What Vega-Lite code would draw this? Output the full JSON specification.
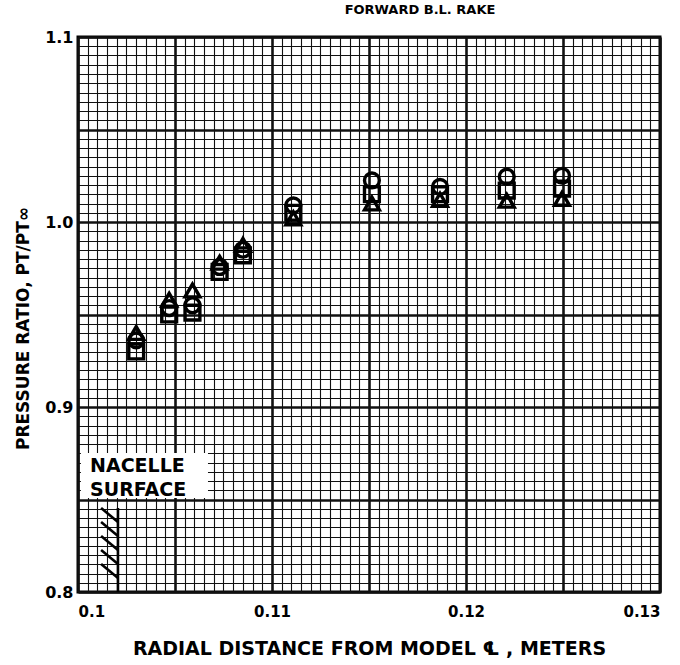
{
  "$schema": "https://vega.github.io/schema/vega-lite/v6.json",
  "width": 582,
  "height": 555,
  "autosize": "none",
  "padding": {"left": 78, "top": 37, "right": 20, "bottom": 73},
  "background": "white",
  "config": {
    "view": {"stroke": "black", "strokeWidth": 3},
    "font": "DejaVu Sans"
  },
  "title": {"text": "FORWARD B.L. RAKE", "fontSize": 13, "font": "DejaVu Sans", "fontWeight": "bold", "anchor": "middle", "dx": 51, "offset": 12, "color": "black"},
  "datasets": {
    "points": [
      {"x": 0.103, "y": 0.940, "shape": "triangle"},
      {"x": 0.103, "y": 0.936, "shape": "circle"},
      {"x": 0.103, "y": 0.930, "shape": "square"},
      {"x": 0.1047, "y": 0.958, "shape": "triangle"},
      {"x": 0.1047, "y": 0.9535, "shape": "circle"},
      {"x": 0.1047, "y": 0.950, "shape": "square"},
      {"x": 0.1059, "y": 0.963, "shape": "triangle"},
      {"x": 0.1059, "y": 0.955, "shape": "circle"},
      {"x": 0.1059, "y": 0.951, "shape": "square"},
      {"x": 0.1073, "y": 0.978, "shape": "triangle"},
      {"x": 0.1073, "y": 0.9757, "shape": "circle"},
      {"x": 0.1073, "y": 0.973, "shape": "square"},
      {"x": 0.1085, "y": 0.9876, "shape": "triangle"},
      {"x": 0.1085, "y": 0.985, "shape": "circle"},
      {"x": 0.1085, "y": 0.982, "shape": "square"},
      {"x": 0.1111, "y": 1.002, "shape": "triangle"},
      {"x": 0.1111, "y": 1.009, "shape": "circle"},
      {"x": 0.1111, "y": 1.005, "shape": "square"},
      {"x": 0.11515, "y": 1.010, "shape": "triangle"},
      {"x": 0.11515, "y": 1.0225, "shape": "circle"},
      {"x": 0.11515, "y": 1.015, "shape": "square"},
      {"x": 0.11866, "y": 1.012, "shape": "triangle"},
      {"x": 0.11866, "y": 1.019, "shape": "circle"},
      {"x": 0.11866, "y": 1.015, "shape": "square"},
      {"x": 0.1221, "y": 1.0115, "shape": "triangle"},
      {"x": 0.1221, "y": 1.0245, "shape": "circle"},
      {"x": 0.1221, "y": 1.017, "shape": "square"},
      {"x": 0.12495, "y": 1.0125, "shape": "triangle"},
      {"x": 0.12495, "y": 1.025, "shape": "circle"},
      {"x": 0.12495, "y": 1.018, "shape": "square"}
    ],
    "surface": [
      {"x": 0.10206, "y": 0.8, "x2": 0.10206, "y2": 0.8454},
      {"x": 0.10119, "y": 0.8454, "x2": 0.10206, "y2": 0.8378},
      {"x": 0.10119, "y": 0.8378, "x2": 0.10206, "y2": 0.8303},
      {"x": 0.10119, "y": 0.8303, "x2": 0.10206, "y2": 0.8227},
      {"x": 0.10119, "y": 0.8227, "x2": 0.10206, "y2": 0.8151},
      {"x": 0.10119, "y": 0.8151, "x2": 0.10206, "y2": 0.8076}
    ],
    "box": [
      {"x": 0.10015, "y": 0.8508, "x2": 0.1067, "y2": 0.8751}
    ],
    "labels": [
      {"x": 0.10062, "y": 0.8681, "text": "NACELLE"},
      {"x": 0.10062, "y": 0.8551, "text": "SURFACE"}
    ]
  },
  "encoding": {
    "x": {
      "field": "x", "type": "quantitative",
      "scale": {"domain": [0.1, 0.13], "nice": false, "zero": false},
      "axis": {
        "title": "RADIAL DISTANCE FROM MODEL ℄ , METERS",
        "titleFontSize": 19, "titleFontWeight": "bold", "titleFont": "DejaVu Sans", "titleColor": "black", "titlePadding": 20,
        "values": [0.1,0.1005,0.101,0.1015,0.102,0.1025,0.103,0.1035,0.104,0.1045,0.105,0.1055,0.106,0.1065,0.107,0.1075,0.108,0.1085,0.109,0.1095,0.11,0.1105,0.111,0.1115,0.112,0.1125,0.113,0.1135,0.114,0.1145,0.115,0.1155,0.116,0.1165,0.117,0.1175,0.118,0.1185,0.119,0.1195,0.12,0.1205,0.121,0.1215,0.122,0.1225,0.123,0.1235,0.124,0.1245,0.125,0.1255,0.126,0.1265,0.127,0.1275,0.128,0.1285,0.129,0.1295,0.13],
        "labelExpr": "round(datum.value*2000) % 20 === 0 ? toString(round(datum.value*100)/100) : ''",
        "labelFontSize": 15, "labelFontWeight": "bold", "labelColor": "black", "labelPadding": 12, "labelFont": "DejaVu Sans",
        "labelOverlap": false,
        "ticks": false, "domain": false,
        "grid": true, "gridColor": "#111", "gridOpacity": 1,
        "gridWidth": {"condition": {"test": "round(datum.value*2000) % 10 === 0", "value": 2.6}, "value": 1.1}
      }
    },
    "y": {
      "field": "y", "type": "quantitative",
      "scale": {"domain": [0.8, 1.1], "nice": false, "zero": false},
      "axis": {
        "title": "PRESSURE RATIO, PT/PT∞",
        "titleFontSize": 17, "titleFontWeight": "bold", "titleFont": "DejaVu Sans", "titleColor": "black", "titlePadding": 12,
        "titleY": 291,
        "values": [0.8,0.805,0.81,0.815,0.82,0.825,0.83,0.835,0.84,0.845,0.85,0.855,0.86,0.865,0.87,0.875,0.88,0.885,0.89,0.895,0.9,0.905,0.91,0.915,0.92,0.925,0.93,0.935,0.94,0.945,0.95,0.955,0.96,0.965,0.97,0.975,0.98,0.985,0.99,0.995,1.0,1.005,1.01,1.015,1.02,1.025,1.03,1.035,1.04,1.045,1.05,1.055,1.06,1.065,1.07,1.075,1.08,1.085,1.09,1.095,1.1],
        "labelExpr": "round(datum.value*200) % 20 === 0 ? format(datum.value, '.1f') : ''",
        "labelFontSize": 16, "labelFontWeight": "bold", "labelColor": "black", "labelPadding": 5, "labelFont": "DejaVu Sans",
        "labelOverlap": false,
        "ticks": false, "domain": false,
        "grid": true, "gridColor": "#111", "gridOpacity": 1,
        "gridWidth": {"condition": {"test": "round(datum.value*200) % 10 === 0", "value": 2.6}, "value": 1.1}
      }
    }
  },
  "layer": [
    {
      "data": {"name": "points"},
      "mark": {"type": "point", "filled": false, "stroke": "black", "strokeWidth": 3.4, "size": 220, "opacity": 1},
      "encoding": {
        "shape": {
          "field": "shape", "type": "nominal",
          "scale": {"domain": ["circle", "square", "triangle"], "range": ["circle", "square", "triangle-up"]},
          "legend": null
        }
      }
    },
    {
      "data": {"name": "box"},
      "mark": {"type": "rect", "fill": "white"},
      "encoding": {
        "x2": {"field": "x2"},
        "y2": {"field": "y2"}
      }
    },
    {
      "data": {"name": "labels"},
      "mark": {"type": "text", "align": "left", "baseline": "middle", "font": "DejaVu Sans", "fontWeight": "bold", "fontSize": 19, "color": "black"},
      "encoding": {
        "text": {"field": "text"}
      }
    },
    {
      "data": {"name": "surface"},
      "mark": {"type": "rule", "color": "black", "strokeWidth": 2.6},
      "encoding": {
        "x2": {"field": "x2"},
        "y2": {"field": "y2"}
      }
    }
  ]
}
